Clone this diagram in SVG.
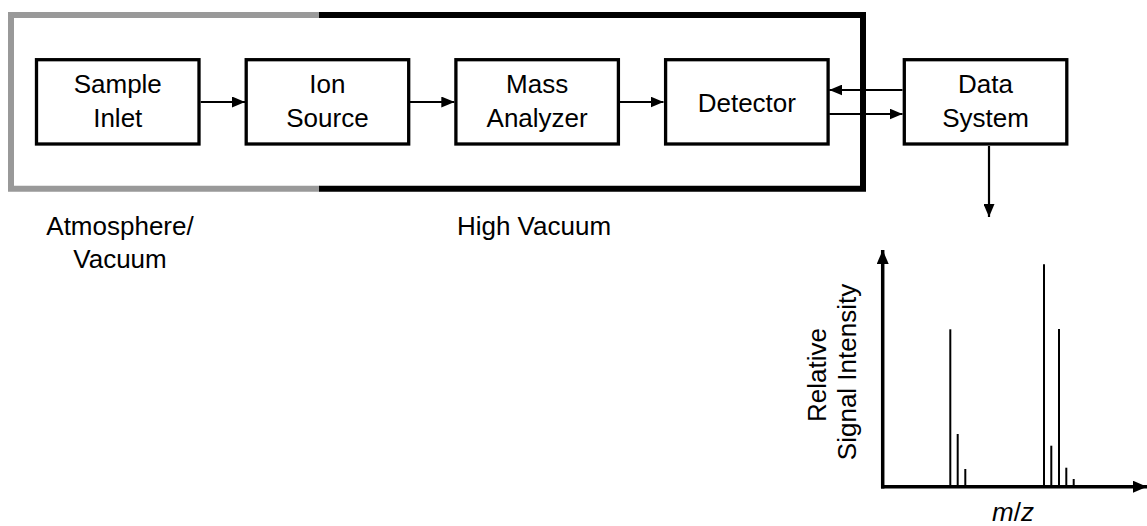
<svg xmlns="http://www.w3.org/2000/svg" width="1147" height="526" viewBox="0 0 1147 526">
<defs>
<style>
.box{fill:#fff;stroke:#000;stroke-width:3.3}
.t{font-family:"Liberation Sans",Arial,sans-serif;font-size:26px;fill:#000;text-anchor:middle}
.ln{stroke:#000;stroke-width:2.2;fill:none}
.pk{stroke:#000;stroke-width:2;fill:none}
.ax{stroke:#000;stroke-width:3.5;fill:none}
</style>
<marker id="ah" viewBox="0 0 13 11" refX="13" refY="5.5" markerWidth="13" markerHeight="11" markerUnits="userSpaceOnUse" orient="auto">
<path d="M0,0 L13,5.5 L0,11 Z" fill="#000"/>
</marker>
<marker id="ahx" viewBox="0 0 14 12" refX="14" refY="6" markerWidth="14" markerHeight="12" markerUnits="userSpaceOnUse" orient="auto">
<path d="M0,0 L14,6 L0,12 Z" fill="#000"/>
</marker>
</defs>
<rect width="1147" height="526" fill="#fff"/>
<g id="frame">
<path d="M319.5,15 H11 V188.7 H319.5" fill="none" stroke="#999" stroke-width="6"/>
<path d="M319,15 H863 V188.7 H319" fill="none" stroke="#000" stroke-width="6"/>
</g>
<g id="connectors">
<line class="ln" x1="200.7" y1="102" x2="245" y2="102" marker-end="url(#ah)"/>
<line class="ln" x1="409.9" y1="102" x2="454.3" y2="102" marker-end="url(#ah)"/>
<line class="ln" x1="619.6" y1="102" x2="663.5" y2="102" marker-end="url(#ah)"/>
<line class="ln" x1="902.5" y1="90" x2="829.3" y2="90" marker-end="url(#ah)"/>
<line class="ln" x1="829.3" y1="114" x2="902.5" y2="114" marker-end="url(#ah)"/>
<line class="ln" x1="989" y1="146" x2="989" y2="217" marker-end="url(#ah)"/>
</g>
<g id="sample-inlet">
<rect class="box" x="36.5" y="59.7" width="162.5" height="84.3"/>
<text class="t" x="117.75" y="93">Sample</text>
<text class="t" x="117.75" y="127">Inlet</text>
</g>
<g id="ion-source">
<rect class="box" x="246.2" y="59.7" width="162.5" height="84.3"/>
<text class="t" x="327.45" y="93">Ion</text>
<text class="t" x="327.45" y="127">Source</text>
</g>
<g id="mass-analyzer">
<rect class="box" x="455.9" y="59.7" width="162.5" height="84.3"/>
<text class="t" x="537.15" y="93">Mass</text>
<text class="t" x="537.15" y="127">Analyzer</text>
</g>
<g id="detector">
<rect class="box" x="665.6" y="59.7" width="162.5" height="84.3"/>
<text class="t" x="746.85" y="111.5">Detector</text>
</g>
<g id="data-system">
<rect class="box" x="904.3" y="59.7" width="162.5" height="84.3"/>
<text class="t" x="985.55" y="93">Data</text>
<text class="t" x="985.55" y="127">System</text>
</g>
<g id="region-labels">
<text class="t" x="120" y="235">Atmosphere/</text>
<text class="t" x="120" y="268">Vacuum</text>
<text class="t" x="534" y="235">High Vacuum</text>
</g>
<g id="spectrum">
<line class="ax" x1="882.7" y1="488.5" x2="882.7" y2="250" marker-end="url(#ahx)"/>
<line class="ax" x1="881" y1="486.7" x2="1147" y2="486.7" marker-end="url(#ahx)"/>
<line class="pk" x1="950.3" y1="486" x2="950.3" y2="329.3"/>
<line class="pk" x1="957.7" y1="486" x2="957.7" y2="434"/>
<line class="pk" x1="965.3" y1="486" x2="965.3" y2="469"/>
<line class="pk" x1="1044" y1="486" x2="1044" y2="264.3"/>
<line class="pk" x1="1051.3" y1="486" x2="1051.3" y2="445.7"/>
<line class="pk" x1="1059" y1="486" x2="1059" y2="329"/>
<line class="pk" x1="1066.3" y1="486" x2="1066.3" y2="467.7"/>
<line class="pk" x1="1073.7" y1="486" x2="1073.7" y2="479"/>
<text class="t" transform="translate(826,375) rotate(-90)">Relative</text>
<text class="t" transform="translate(856,372) rotate(-90)">Signal Intensity</text>
<text class="t" x="1013" y="521"><tspan font-style="italic">m</tspan>/<tspan font-style="italic">z</tspan></text>
</g>
</svg>
